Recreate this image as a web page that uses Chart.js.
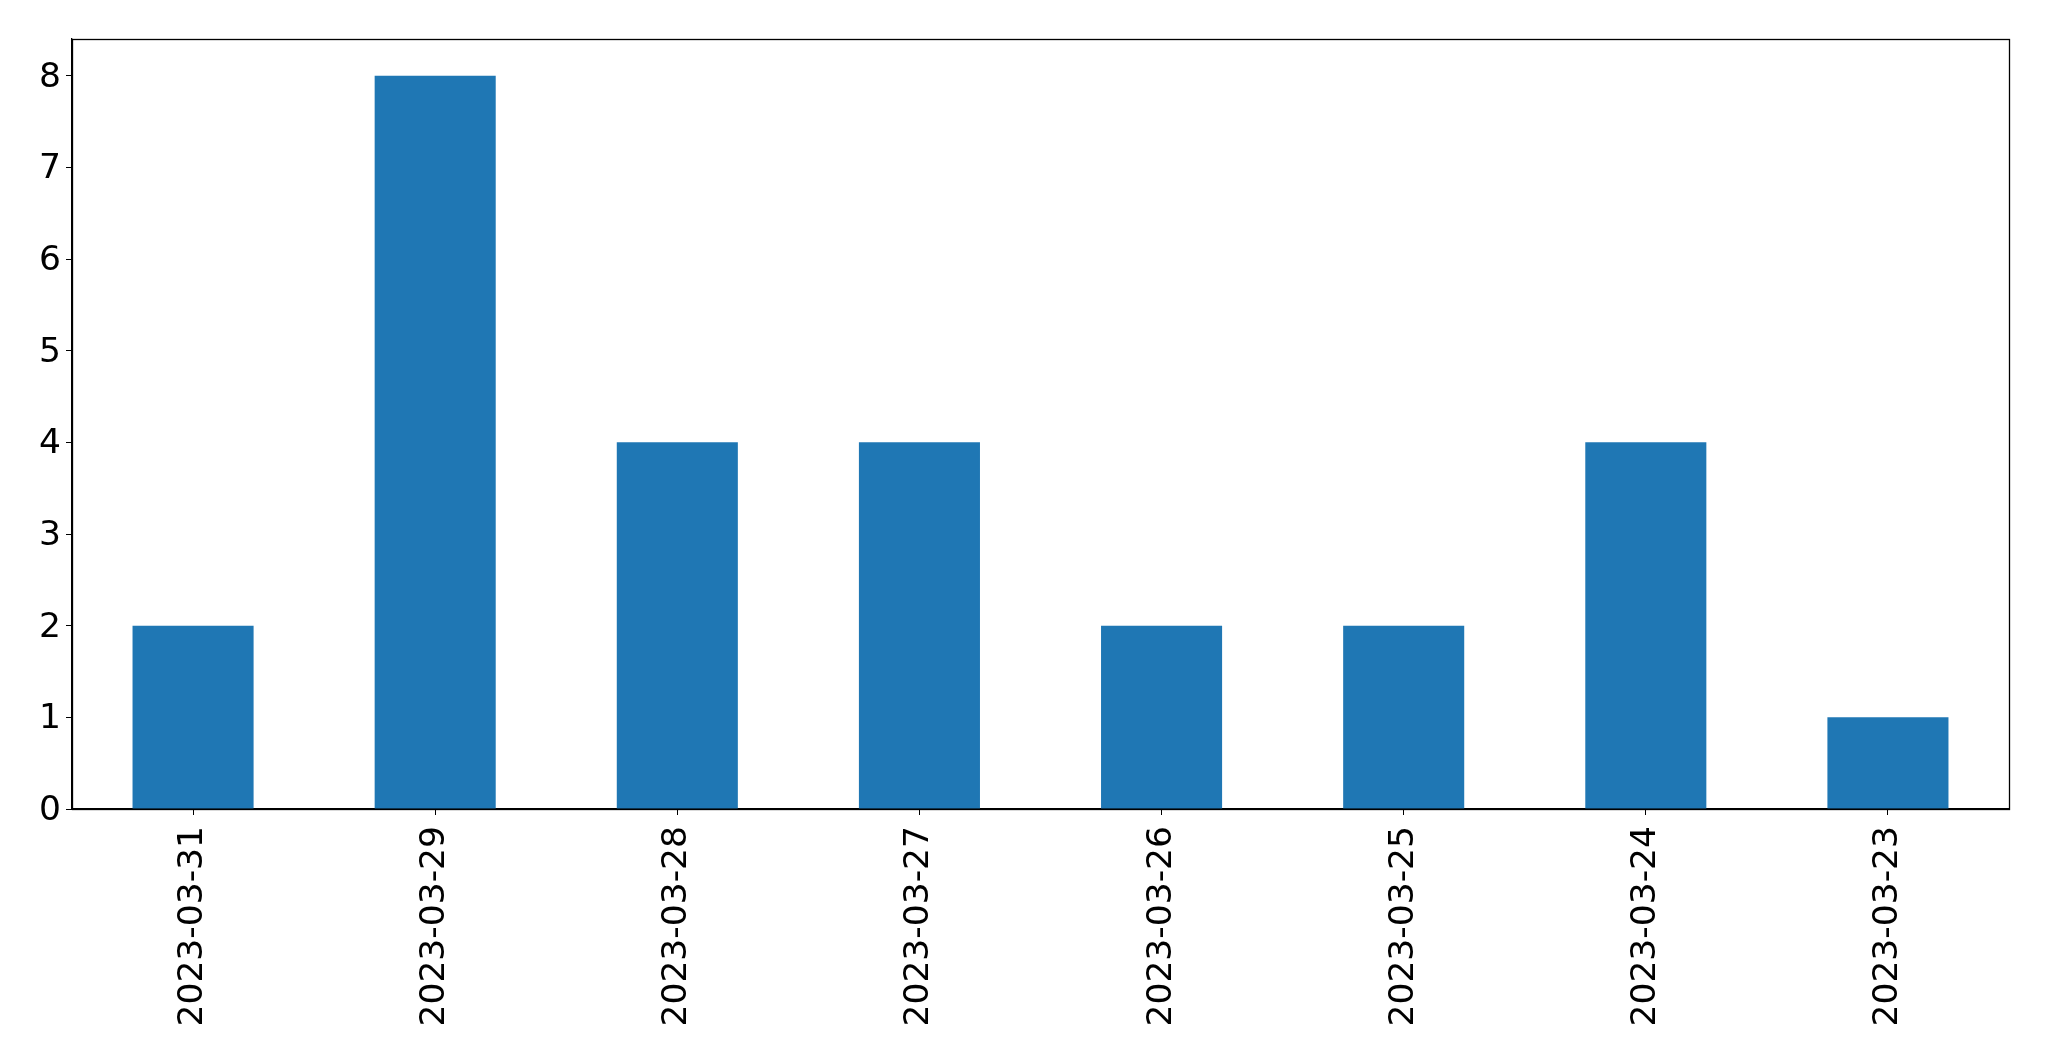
<!DOCTYPE html>
<html>
<head>
<meta charset="utf-8">
<script src="https://cdn.jsdelivr.net/npm/chart.js@4"></script>
<style>
html,body{margin:0;padding:0;background:#fff;overflow:hidden;}
canvas{display:block;}
</style>
</head>
<body>
<canvas id="c" width="2049" height="1061" style="width:2049px;height:1061px"></canvas>
<script>
const categories = ["2023-03-31", "2023-03-29", "2023-03-28", "2023-03-27", "2023-03-26", "2023-03-25", "2023-03-24", "2023-03-23"];
const counts = [2, 8, 4, 4, 2, 2, 4, 1];
const yTicks = [0, 1, 2, 3, 4, 5, 6, 7, 8];

const frame = {
  id: 'frame',
  afterDatasetsDraw(chart) {
    const a = chart.chartArea, ctx = chart.ctx;
    ctx.save();
    ctx.strokeStyle = '#000';
    ctx.lineWidth = 1.3;
    ctx.strokeRect(Math.round(a.left) + 0.5, Math.round(a.top) + 0.5, Math.round(a.right - a.left), Math.round(a.bottom - a.top));
    ctx.restore();
  }
};

new Chart(document.getElementById('c'), {
  type: 'bar',
  data: {
    labels: categories,
    datasets: [{
      data: counts,
      backgroundColor: '#1f77b4',
      borderWidth: 0,
      categoryPercentage: 1.0,
      barPercentage: 0.5
    }]
  },
  options: {
    responsive: false,
    devicePixelRatio: 1,
    animation: false,
    layout: { padding: { left: 0, right: 40, top: 39, bottom: 0 } },
    plugins: { legend: { display: false }, tooltip: { enabled: false } },
    scales: {
      x: {
        grid: { display: true, offset: false, drawOnChartArea: false, tickLength: 6, tickColor: '#000', color: '#000' },
        border: { display: true, color: '#000', width: 1.3 },
        ticks: {
          color: '#000',
          font: { family: 'DejaVu Sans', size: 34.5 },
          minRotation: 90, maxRotation: 90,
          padding: 11,
          autoSkip: false
        },
        afterFit(scale) { scale.height = 252; }
      },
      y: {
        min: 0, max: 8.4,
        grid: { display: true, drawOnChartArea: false, tickLength: 6, tickColor: '#000', color: '#000' },
        border: { display: true, color: '#000', width: 1.3 },
        ticks: {
          color: '#000',
          font: { family: 'DejaVu Sans', size: 34.5 },
          padding: 5,
          labelOffset: 2,
          stepSize: 1
        },
        afterBuildTicks(scale) { scale.ticks = yTicks.map(v => ({ value: v })); },
        afterFit(scale) { scale.width = 72; }
      }
    }
  },
  plugins: [frame]
});
</script>
</body>
</html>
